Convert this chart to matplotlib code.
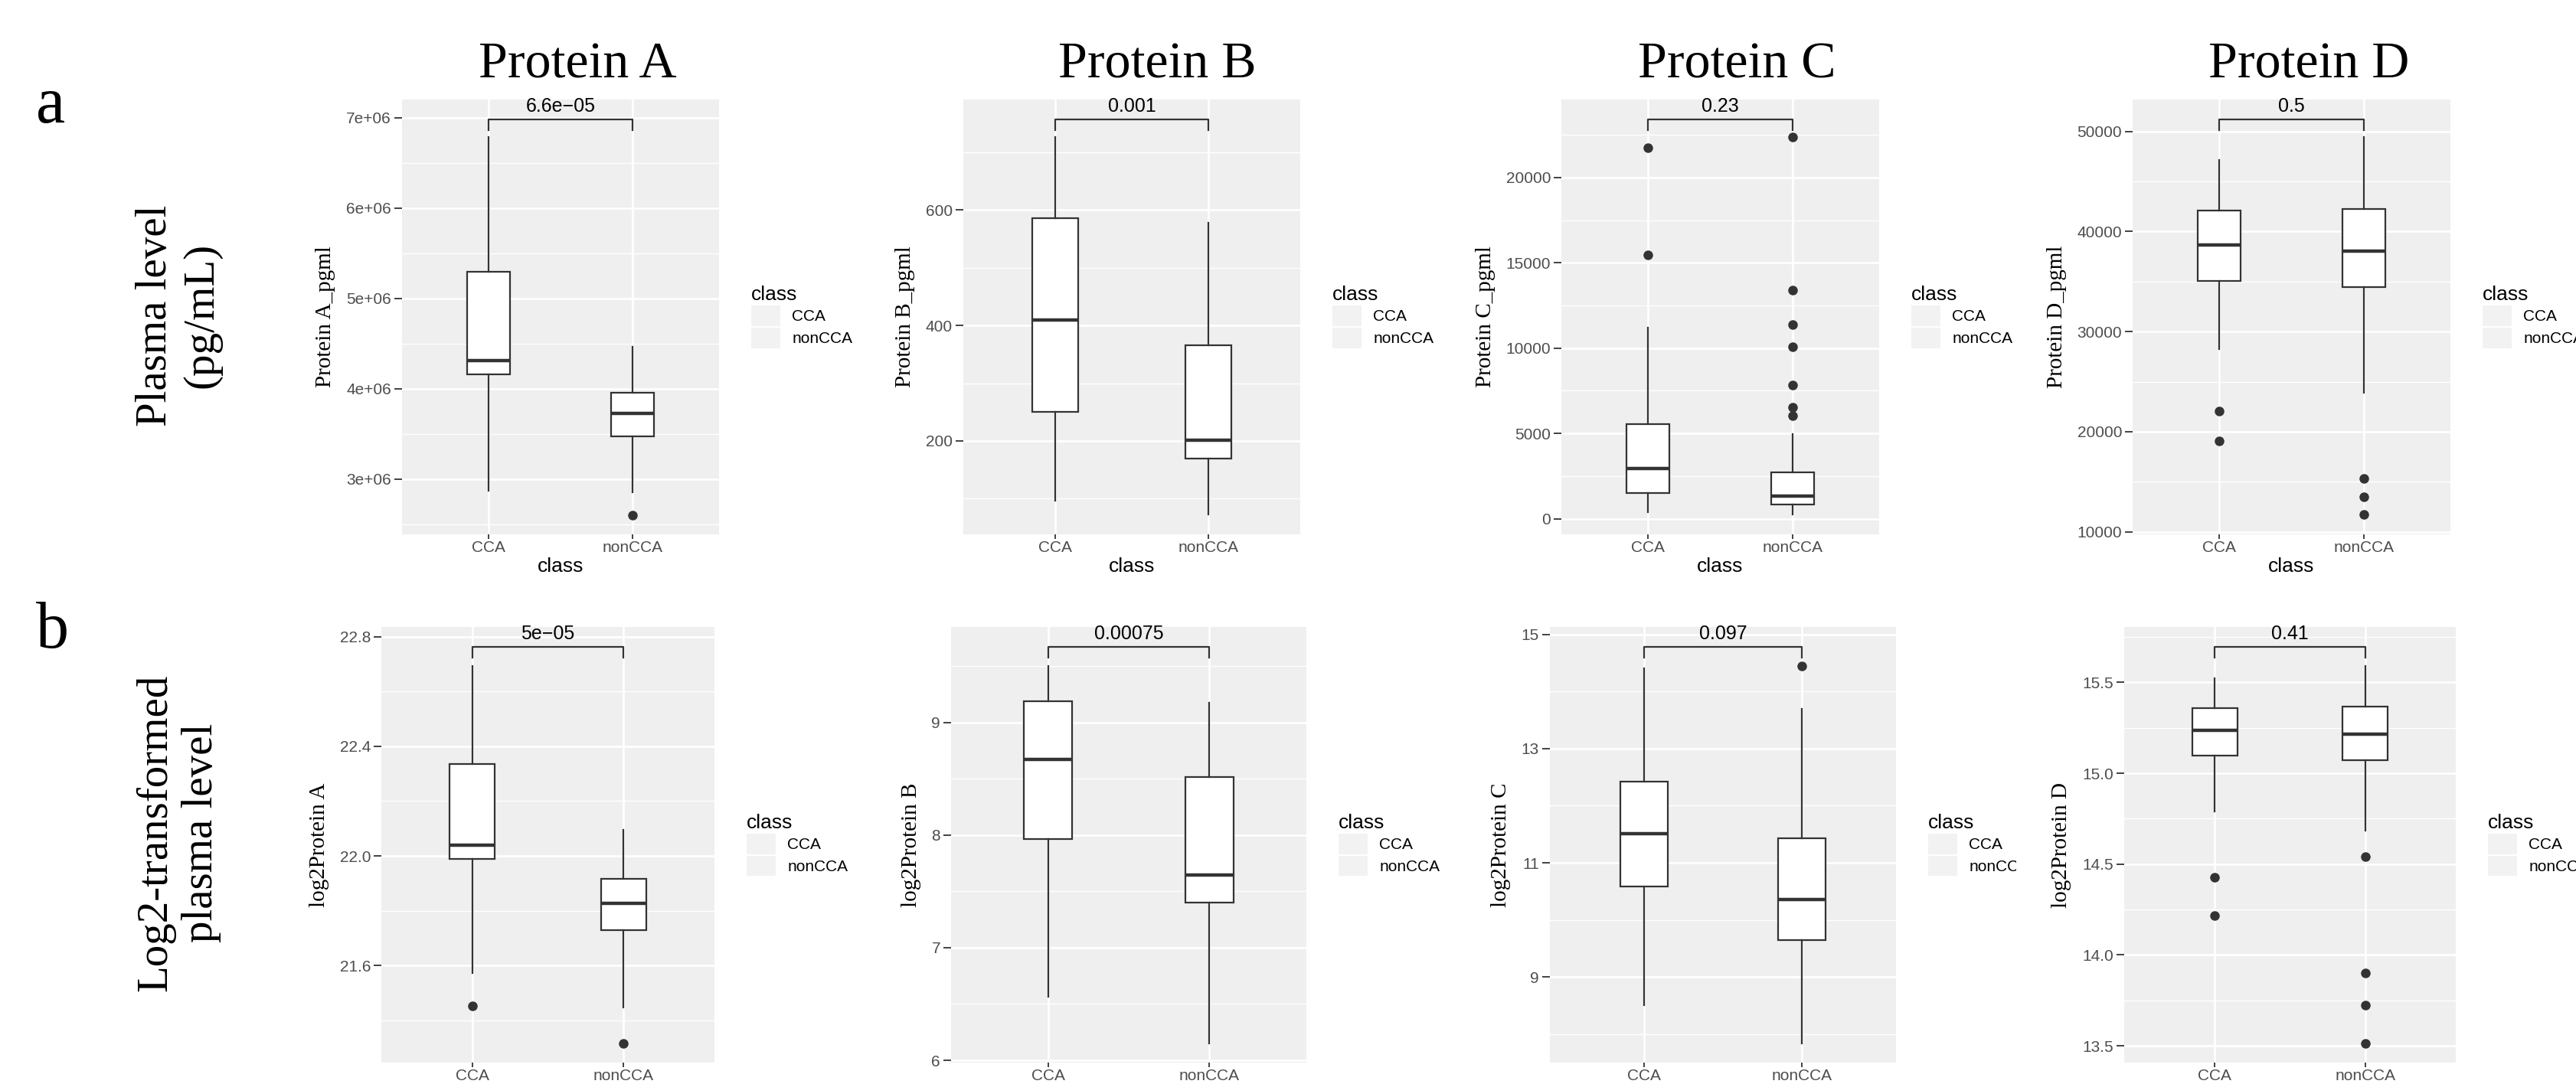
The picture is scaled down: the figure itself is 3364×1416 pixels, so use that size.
import numpy as np
import matplotlib.pyplot as plt
import matplotlib.transforms as mtransforms
from matplotlib.patches import Patch, Rectangle
from matplotlib.ticker import FixedLocator, FuncFormatter

plt.rcParams['font.family'] = ['Liberation Sans', 'DejaVu Sans']

proteins = ['Protein A', 'Protein B', 'Protein C', 'Protein D']
classes = ['CCA', 'nonCCA']

# p values shown above the brackets
p_raw = ['6.6e\u221205', '0.001', '0.23', '0.5']
p_log = ['5e\u221205', '0.00075', '0.097', '0.41']

# box stats: whislo, q1, median, q3, whishi
raw_cca = [[2.873e6, 4.16e6, 4.315e6, 5.294e6, 6.786e6],
           [95.8, 250.8, 409.6, 585.9, 726],
           [391, 1522, 2935, 5543, 11196],
           [28258, 35069, 38665, 42113, 47183]]
raw_non = [[2.852e6, 3.473e6, 3.724e6, 3.958e6, 4.464e6],
           [72, 169, 201, 365.9, 578],
           [239, 826, 1348, 2739, 4957],
           [23893, 34476, 38035, 42261, 49407]]
raw_cca_out = [[], [], [15457, 21739], [19036, 22039]]
raw_non_out = [[2.605e6], [],
               [6022, 6543, 7826, 10087, 11370, 13391, 22348],
               [11695, 13512, 15292]]

log_cca = [[21.573, 21.988, 22.04, 22.336, 22.692],
           [6.563, 7.963, 8.673, 9.19, 9.5],
           [8.512, 10.579, 11.516, 12.428, 14.4],
           [14.789, 15.097, 15.236, 15.359, 15.523]]
log_non = [[21.447, 21.728, 21.828, 21.915, 22.095],
           [6.151, 7.4, 7.647, 8.515, 9.171],
           [7.839, 9.654, 10.355, 11.426, 13.699],
           [14.686, 15.072, 15.215, 15.366, 15.59]]
log_cca_out = [[21.454], [], [], [14.216, 14.428]]
log_non_out = [[21.316], [], [14.445], [13.514, 13.724, 13.9, 14.542]]

raw_ylabels = ['Protein A_pgml', 'Protein B_pgml', 'Protein C_pgml', 'Protein D_pgml']
log_ylabels = ['log2Protein A', 'log2Protein B', 'log2Protein C', 'log2Protein D']

# axis ranges and ticks
raw_ylims = [(2.39e6, 7.2e6), (38, 791.6), (-913, 24565), (9740, 53188)]
log_ylims = [(21.246, 22.835), (5.98, 9.847), (7.503, 15.129), (13.408, 15.805)]
raw_major = [[3e6, 4e6, 5e6, 6e6, 7e6], [200, 400, 600],
             [0, 5000, 10000, 15000, 20000], [10000, 20000, 30000, 40000, 50000]]
raw_minor = [[2.5e6, 3.5e6, 4.5e6, 5.5e6, 6.5e6], [100, 300, 500, 700],
             [2500, 7500, 12500, 17500, 22500], [15000, 25000, 35000, 45000]]
log_major = [[21.6, 22.0, 22.4, 22.8], [6, 7, 8, 9], [9, 11, 13, 15],
             [13.5, 14.0, 14.5, 15.0, 15.5]]
log_minor = [[21.4, 21.8, 22.2, 22.6], [6.5, 7.5, 8.5, 9.5], [8, 10, 12, 14],
             [13.75, 14.25, 14.75, 15.25, 15.75]]
raw_fmt = ['{:.0e}', '{:.0f}', '{:.0f}', '{:.0f}']
log_fmt = ['{:.1f}', '{:.0f}', '{:.0f}', '{:.1f}']

W, H = 3364, 1416
fig = plt.figure(figsize=(W / 100, H / 100), dpi=100)

row_a_x = [(525, 939), (1258, 1698), (2039, 2454), (2785, 3200)]
row_b_x = [(498, 933), (1242, 1706), (2024, 2476), (2774, 3207)]
row_a_y = (130, 698)
row_b_y = (819, 1388)

EDGE = '#333333'


def draw_panel(x0x1, y0y1, cca, non, cca_out, non_out, ylim, major, minor,
               fmt, ylabel, ptext, xlabel=True):
    x0, x1 = x0x1
    y0, y1 = y0y1
    ax = fig.add_axes([x0 / W, 1 - y1 / H, (x1 - x0) / W, (y1 - y0) / H])
    ax.set_facecolor('#EFEFEF')
    stats = []
    for lab, s, out in zip(classes, [cca, non], [cca_out, non_out]):
        stats.append(dict(whislo=s[0], q1=s[1], med=s[2], q3=s[3], whishi=s[4],
                          fliers=np.array(out), label=lab))
    ax.bxp(stats, positions=[1, 2], widths=0.3, patch_artist=True, showcaps=False,
           boxprops=dict(facecolor='white', edgecolor=EDGE, linewidth=1.6),
           whiskerprops=dict(color=EDGE, linewidth=1.6),
           medianprops=dict(color=EDGE, linewidth=3.2),
           flierprops=dict(marker='o', markerfacecolor=EDGE, markeredgecolor=EDGE,
                           markersize=8))
    ax.set_xlim(0.4, 2.6)
    ax.set_ylim(*ylim)
    ax.set_xticks([1, 2])
    ax.set_xticklabels(classes)
    ax.yaxis.set_major_locator(FixedLocator(major))
    ax.yaxis.set_minor_locator(FixedLocator(minor))
    ax.yaxis.set_major_formatter(FuncFormatter(lambda v, p: fmt.format(v)))
    ax.set_axisbelow(True)
    ax.grid(which='major', color='white', linewidth=1.9)
    ax.grid(which='minor', axis='y', color='white', linewidth=0.9)
    for sp in ax.spines.values():
        sp.set_visible(False)
    ax.tick_params(which='major', width=1.3, color=EDGE,
                   labelcolor='#4D4D4D', labelsize=15)
    ax.tick_params(axis='y', which='major', length=7, pad=3)
    ax.tick_params(axis='x', which='major', length=4.5, pad=1.5)
    ax.tick_params(which='minor', length=0)
    ax.set_ylabel(ylabel, family=['Liberation Serif', 'DejaVu Serif'],
                  fontsize=21, labelpad=10)
    if xlabel:
        ax.set_xlabel('class', fontsize=19, labelpad=2)

    # significance bracket
    trans = mtransforms.blended_transform_factory(ax.transData, ax.transAxes)
    ax.plot([1, 1, 2, 2], [0.93, 0.955, 0.955, 0.93], transform=trans,
            color=EDGE, lw=1.6, clip_on=False)
    ax.text(1.5, 0.963, ptext, transform=trans, ha='center', va='bottom',
            fontsize=18, color='black')

    handles = [Patch(facecolor='#F2F2F2', edgecolor='none') for _ in classes]
    ax.legend(handles, classes, title='class', loc='center left',
              bbox_to_anchor=(1 + 42 / (x1 - x0), 0.5), frameon=False,
              fontsize=15, title_fontsize=19, handlelength=1.8, handleheight=1.6,
              handletextpad=0.75, labelspacing=0.1, borderpad=0,
              borderaxespad=0, alignment='left')
    return ax


for i in range(4):
    draw_panel(row_a_x[i], row_a_y, raw_cca[i], raw_non[i], raw_cca_out[i],
               raw_non_out[i], raw_ylims[i], raw_major[i], raw_minor[i],
               raw_fmt[i], raw_ylabels[i], p_raw[i])
    # the bottom row's x titles fall outside the cropped source image
    draw_panel(row_b_x[i], row_b_y, log_cca[i], log_non[i], log_cca_out[i],
               log_non_out[i], log_ylims[i], log_major[i], log_minor[i],
               log_fmt[i], log_ylabels[i], p_log[i], xlabel=False)

serif = ['Liberation Serif', 'DejaVu Serif']
title_x = [754, 1511, 2268, 3015]
for name, tx in zip(proteins, title_x):
    fig.text(tx / W, 1 - 102 / H, name, ha='center', va='baseline',
             family=serif, fontsize=49)

fig.text(47 / W, 1 - 160 / H, 'a', ha='left', va='baseline', family=serif, fontsize=62)
fig.text(47 / W, 1 - 846 / H, 'b', ha='left', va='baseline', family=serif, fontsize=62)
fig.text(233 / W, 1 - 412 / H, 'Plasma level\n(pg/mL)', rotation=90, ha='center',
         va='center', family=serif, fontsize=41, linespacing=1.2,
         multialignment='center')
fig.text(233 / W, 1 - 1088 / H, 'Log2-transformed\nplasma level', rotation=90,
         ha='center', va='center', family=serif, fontsize=41, linespacing=1.2,
         multialignment='center')

# the log panel D image overlaps the legend of log panel C in the source
fig.patches.append(Rectangle((2633 / W, 1 - 1150 / H), 25 / W, 150 / H,
                             transform=fig.transFigure, facecolor='white',
                             edgecolor='none', zorder=10))

fig.savefig('out.png', dpi=100, facecolor='white')
